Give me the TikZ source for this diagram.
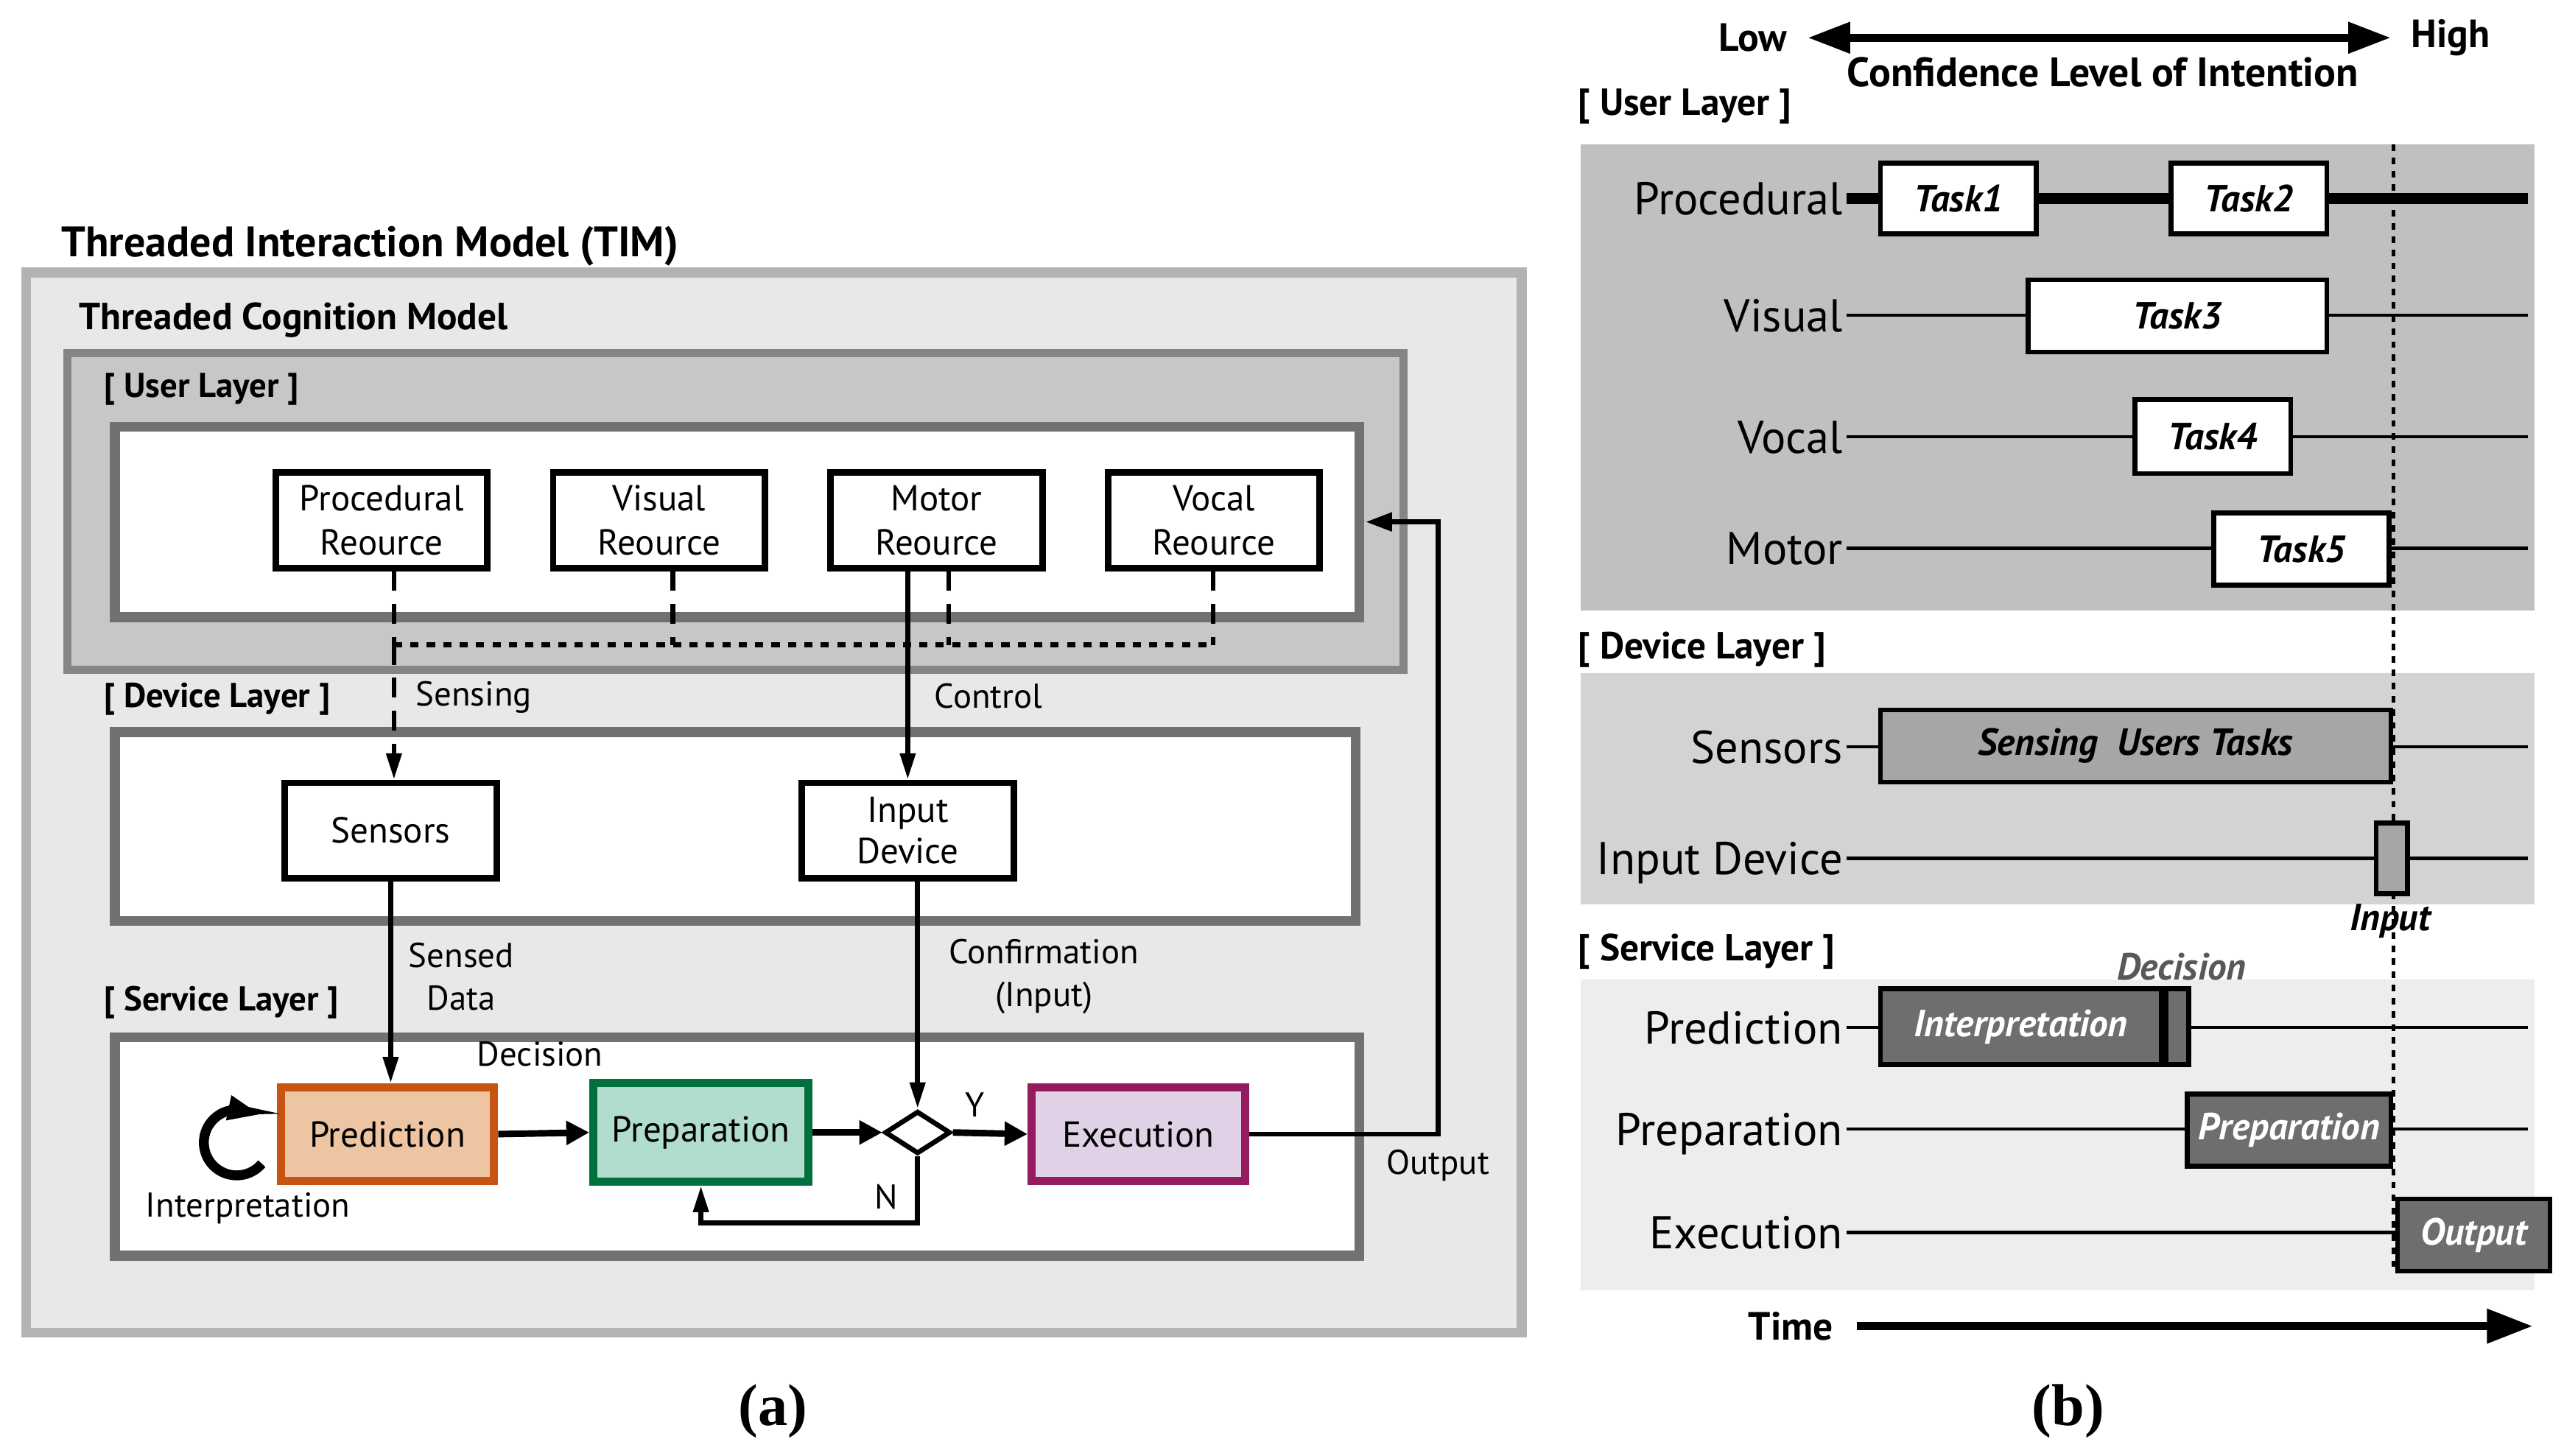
\documentclass[tikz,border=0pt]{standalone}
\usepackage{fontspec}
\setmainfont{PT Sans}
\newfontfamily\capfont{Liberation Serif}
\usetikzlibrary{calc,positioning,shapes.geometric,arrows.meta}

\definecolor{timB}{HTML}{B3B3B3}
\definecolor{timF}{HTML}{E8E8E8}
\definecolor{userB}{HTML}{858585}
\definecolor{userF}{HTML}{C7C7C9}
\definecolor{inB}{HTML}{717171}
\definecolor{predB}{HTML}{C65511}
\definecolor{predF}{HTML}{EEC5A2}
\definecolor{prepB}{HTML}{00703C}
\definecolor{prepF}{HTML}{B1DDCE}
\definecolor{exeB}{HTML}{951A5F}
\definecolor{exeF}{HTML}{E0D1E6}
\definecolor{ruF}{HTML}{C0C0C0}
\definecolor{rdF}{HTML}{D3D3D4}
\definecolor{rsF}{HTML}{EDEDED}
\definecolor{midF}{HTML}{A6A6A6}
\definecolor{darkF}{HTML}{6E6E6E}
\definecolor{decT}{HTML}{595959}

\begin{document}
\begin{tikzpicture}[x=0.5pt, y=-0.5pt,
  lab/.style={font=\fontsize{10.5}{13}\selectfont, inner sep=1pt, align=center},
  blab/.style={font=\fontsize{10.5}{13}\selectfont\bfseries, inner sep=1pt},
  bigb/.style={font=\fontsize{12}{14}\selectfont\bfseries, inner sep=1pt},
  inframe/.style={line width=3pt, draw=inB, fill=white},
  resbox/.style={draw, line width=2pt, fill=white, minimum width=64.5pt, minimum height=29pt,
    inner sep=1pt, align=center, font=\fontsize{11}{13.5}\selectfont},
  svbox/.style={line width=2.5pt, minimum width=65pt, minimum height=28.5pt, inner sep=1pt,
    font=\fontsize{11}{13}\selectfont},
  arr/.style={line width=1.5pt, -{Triangle[length=8pt, width=4.5pt]}},
  harr/.style={line width=2pt, -{Triangle[length=7pt, width=7pt]}},
  vdash/.style={line width=1.5pt, dash pattern=on 6pt off 4pt},
  hdash/.style={line width=1.5pt, dash pattern=on 2.5pt off 2.5pt},
  rowlab/.style={font=\fontsize{14}{16}\selectfont, inner sep=1pt, text height=13pt, text depth=3pt},
  tbox/.style={draw, line width=1.5pt, fill=white, inner sep=0pt,
    font=\fontsize{11.5}{13}\selectfont\bfseries\itshape},
  capt/.style={font=\fontsize{18}{20}\selectfont\capfont\bfseries}]
\useasboundingbox (0,0) rectangle (1562,887);

% (a) threaded interaction model
\draw[line width=3pt, draw=timB, fill=timF] (16,166) rectangle (927,812);
\node[font=\fontsize{13}{15}\selectfont\bfseries, anchor=west, inner sep=1pt] (tim) at (35,150) {Threaded Interaction Model (TIM)};
\node[font=\fontsize{11.5}{13}\selectfont\bfseries, anchor=west, inner sep=1pt] (tcm) at (46,195) {Threaded Cognition Model};
\draw[line width=2.5pt, draw=userB, fill=userF] (41,215) rectangle (855,408);
\node[blab, anchor=west] (ul) at (61,237) {[ User Layer ]};
\draw[inframe] (70,260) rectangle (828,376);
\coordinate (uin) at (832,318);
\node[blab, anchor=west] (dl) at (61,426) {[ Device Layer ]};
\draw[inframe] (70,446) rectangle (826,561);
\node[blab, anchor=west] (sl) at (61,611) {[ Service Layer ]};
\draw[inframe] (70,632) rectangle (828,765);

\node[resbox] (proc) at (232.5,317) {Procedural\\Reource};
\node[resbox] (vis)  at (401.5,317) {Visual\\Reource};
\node[resbox] (mot)  at (570.5,317) {Motor\\Reource};
\node[resbox] (voc)  at (739.5,317) {Vocal\\Reource};

\node[resbox, font=\fontsize{11}{12.5}\selectfont] (sens)  at (238,506) {Sensors};
\node[resbox, font=\fontsize{11}{12.5}\selectfont] (indev) at (553,506) {Input\\Device};

\coordinate (bp) at (240,393);
\coordinate (bv) at (410,393);
\coordinate (bm) at (578,393);
\coordinate (bo) at (739,393);
\draw[vdash] (proc.south -| bp) -- (bp);
\draw[vdash] (vis.south -| bv) -- (bv);
\draw[vdash] (mot.south -| bm) -- (bm);
\draw[vdash] (voc.south -| bo) -- (bo);
\draw[hdash] (bp) -- (bo);
\draw[vdash, arr] (bp) -- (bp |- sens.north);
\draw[arr] (indev.north |- mot.south) -- (indev.north);
\node[lab, anchor=west] (sensing) at (251,425) {Sensing};
\node[lab, anchor=west] (control) at (567,424) {Control};

\node[svbox, draw=predB, fill=predF] (pred) at (236,691) {Prediction};
\node[svbox, draw=prepB, fill=prepF, minimum width=65.5pt, minimum height=30pt] (prep) at (427,690) {Preparation};
\node[draw, diamond, line width=1.5pt, fill=white, minimum width=20pt, minimum height=13pt, inner sep=0pt] (dia) at (559,690) {};
\node[svbox, draw=exeB, fill=exeF] (exe) at (693.5,691) {Execution};

\draw[arr] (sens.south) -- (sens.south |- pred.north);
\draw[arr] (dia.north |- indev.south) -- (dia.north);
\draw[harr] (pred.east) -- (prep.west);
\draw[harr] (prep.east) -- (dia.west);
\draw[harr] (dia.east) -- (exe.west);
\coordinate (nl) at (0,745);
\draw[arr] (dia.south) |- (prep.south |- nl) -- (prep.south);
\coordinate (outc) at (876,318);
\draw[line width=1.5pt, -{Triangle[length=8pt, width=5.5pt]}] (exe.east) -| (outc) -- (uin);
\draw[line width=3pt, -{Triangle[length=10pt, width=7pt]}] ($(pred.west)+(-9,18)$)
  arc[start angle=40, end angle=272, radius=20] -- ++(14,3);

\node[lab] (sdata) at (281,595) {Sensed\\Data};
\node[lab] (confi) at (636,595) {Confirmation\\(Input)};
\node[lab] (deci) at (329,642) {Decision};
\node[lab] (yes) at (594,673) {Y};
\node[lab] (no) at (540,729) {N};
\node[lab] (outp) at (876,710) {Output};
\node[lab] (interp) at (151,736) {Interpretation};
\node[capt] (capa) at (471,860) {(a)};

% (b) timeline
\node[bigb] (low) at (1068,23) {Low};
\node[bigb] (high) at (1493,23) {High};
\draw[line width=2.5pt, {Triangle[length=13pt, width=9pt]}-{Triangle[length=13pt, width=9pt]},
  shorten <=5pt, shorten >=5pt] (low.east) -- (high.west);
\node[bigb, font=\fontsize{12.5}{14}\selectfont\bfseries] (conf) at (1281,44) {Confidence Level of Intention};

\fill[ruF] (963,88) rectangle (1544,372);
\fill[rdF] (963,410) rectangle (1544,551);
\fill[rsF] (963,597) rectangle (1544,786);
\node[bigb, font=\fontsize{11.5}{14}\selectfont\bfseries, anchor=west] (rul) at (959,65) {[ User Layer ]};
\node[bigb, font=\fontsize{11.5}{14}\selectfont\bfseries, anchor=west] (rdl) at (959,396) {[ Device Layer ]};
\node[bigb, font=\fontsize{11.5}{14}\selectfont\bfseries, anchor=west] (rsl) at (959,580) {[ Service Layer ]};

\coordinate (rend) at (1540,0);
\foreach \n/\t/\y in {rproc/Procedural/121, rvis/Visual/192, rvoc/Vocal/266, rmot/Motor/334,
  rsens/Sensors/455, rindev/Input Device/523, rpred/Prediction/626, rprep/Preparation/688, rexe/Execution/751}
  \node[rowlab, anchor=east] (\n) at (1125,\y) {\t};
\draw[line width=3.5pt] (rproc.east) -- (rproc.east -| rend);
\foreach \n in {rvis, rvoc, rmot, rsens, rindev, rpred, rprep, rexe}
  \draw[line width=1pt] (\n.east) -- (\n.east -| rend);

\coordinate (dtop) at (1458,88);
\coordinate (dbot) at (1458,775);
\draw[line width=1pt, dash pattern=on 2pt off 2pt] (dtop) -- (dbot);

\node[tbox, minimum width=47.5pt, minimum height=21.5pt] (t1) at (1193,121) {Task1};
\node[tbox, minimum width=47.5pt, minimum height=21.5pt] (t2) at (1370,121) {Task2};
\node[tbox, minimum width=91pt, minimum height=22pt] (t3) at (1326.5,192.5) {Task3};
\node[tbox, minimum width=47.5pt, minimum height=22.5pt] (t4) at (1348,266) {Task4};
\node[tbox, minimum width=53.5pt, minimum height=22pt] (t5) at (1402,334.5) {Task5};
\node[tbox, fill=midF, minimum width=155.5pt, minimum height=22pt] (senst) at (1301,454.5) {Sensing\ \ Users Tasks};
\node[tbox, fill=midF, minimum width=9.5pt, minimum height=21.5pt] (inp) at (1457,523) {};
\node[tbox, fill=darkF, text=white, minimum width=85.5pt, minimum height=23pt] (intp) at (1231,625.5) {Interpretation};
\node[draw, line width=1.5pt, fill=darkF, minimum width=7pt, minimum height=23pt, inner sep=0pt, anchor=west] (dec) at (intp.east) {};
\node[tbox, fill=darkF, text=white, minimum width=62pt, minimum height=22pt] (prept) at (1394.5,688.5) {Preparation};
\node[tbox, fill=darkF, text=white, minimum width=46.5pt, minimum height=22pt] (outt) at (1507,752.5) {Output};
\node[tbox, draw=none, fill=none] (inpl) at (1456,561) {Input};
\node[tbox, draw=none, fill=none, text=decT] (decl) at (1329,589) {Decision};

\node[bigb] (time) at (1091,808) {Time};
\coordinate (tend) at (1543,808);
\draw[line width=2.5pt, -{Triangle[length=14pt, width=10pt]}, shorten <=6pt] (time.east) -- (tend);
\node[capt] (capb) at (1260,860) {(b)};
\end{tikzpicture}
\end{document}
